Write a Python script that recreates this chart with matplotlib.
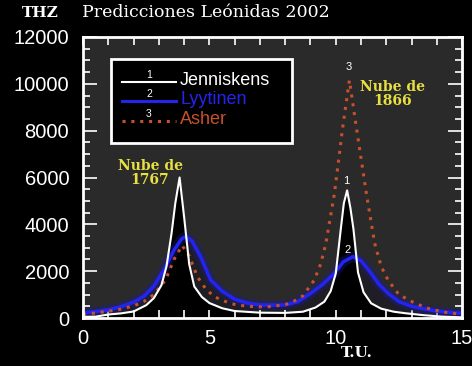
import numpy as np
import matplotlib
matplotlib.use("Agg")
import matplotlib.pyplot as plt
from matplotlib.patches import Rectangle
from matplotlib.ticker import MultipleLocator

# Jenniskens (white)
x_jen = [0, 0.5, 1.0, 1.5, 2.0, 2.5, 2.8, 3.1, 3.3, 3.5, 3.65, 3.82, 4.0, 4.2, 4.4,
         4.7, 5.0, 5.5, 6.0, 7.0, 8.0, 8.7, 9.2, 9.55, 9.8, 10.0, 10.2, 10.32, 10.45,
         10.58, 10.7, 10.88, 11.1, 11.4, 11.8, 12.3, 12.8, 13.5, 14.2, 15]
y_jen = [50, 60, 150, 200, 280, 550, 850, 1400, 2200, 3600, 4900, 6000, 4300, 2300, 1350,
         900, 640, 420, 300, 230, 220, 270, 450, 700, 1150, 1900, 3800, 4900, 5450,
         4700, 3800, 1950, 1100, 630, 400, 270, 200, 120, 60, 30]

# Lyytinen (blue)
x_lyy = [0, 0.4, 1.0, 1.5, 2.0, 2.4, 2.8, 3.2, 3.6, 3.9, 4.06, 4.3, 4.65, 5.05, 5.5,
         6.0, 6.5, 7.0, 7.5, 8.0, 8.5, 9.0, 9.5, 9.95, 10.3, 10.68, 11.0, 11.4, 11.7,
         12.07, 12.5, 13.0, 13.4, 14.0, 14.5, 15]
y_lyy = [230, 260, 350, 480, 680, 920, 1350, 2050, 2900, 3380, 3480, 3300, 2620, 1620, 1150,
         800, 640, 560, 550, 560, 700, 1050, 1450, 1910, 2400, 2620, 2450, 1910, 1450,
         1050, 700, 500, 410, 300, 240, 200]

# Asher (red dotted)
x_ash = [0, 0.5, 1.0, 1.5, 2.0, 2.4, 2.8, 3.26, 3.6, 3.92, 4.2, 4.52, 4.85, 5.19, 5.6,
         6.0, 6.5, 7.0, 7.45, 8.0, 8.22, 8.7, 9.15, 9.4, 9.61, 9.95, 10.28, 10.54, 10.81,
         11.21, 11.54, 11.8, 12.07, 12.5, 13.14, 13.7, 14.3, 15]
y_ash = [150, 220, 290, 380, 520, 700, 1000, 1620, 2500, 3100, 2650, 1770, 1250, 910, 720,
         580, 500, 480, 490, 580, 640, 950, 1620, 2300, 3190, 5330, 8180, 10150, 8180,
         5330, 3190, 2200, 1620, 1000, 630, 400, 250, 150]

names = ["Jenniskens", "Lyytinen", "Asher"]
yellow = "#e8e040"
blue = "#2424f0"
red = "#c8502a"
dots = (0, (1, 1.9))

fig = plt.figure(figsize=(4.72, 3.66), dpi=100, facecolor="black")
ax = fig.add_axes([0.176, 0.131, 0.803, 0.768])
ax.set_facecolor("#2a2a2a")

# dark fill under the curves
ax.fill_between(x_lyy, y_lyy, color="#08081a", alpha=0.35, lw=0)
ax.fill_between(x_jen, y_jen, color="black", lw=0)

# blue glow + line
ax.plot(x_lyy, y_lyy, color="#1a1aa0", lw=7, alpha=0.35, solid_capstyle="round")
ax.plot(x_lyy, y_lyy, color=blue, lw=2.5)
ax.plot(x_ash, y_ash, color=red, lw=2.2, linestyle=dots)
ax.plot(x_jen, y_jen, color="white", lw=1.5)

ax.set_xlim(0, 15)
ax.set_ylim(0, 12000)
ax.xaxis.set_major_locator(MultipleLocator(5))
ax.xaxis.set_minor_locator(MultipleLocator(1))
ax.yaxis.set_major_locator(MultipleLocator(2000))
ax.yaxis.set_minor_locator(MultipleLocator(500))
ax.tick_params(which="both", direction="in", top=True, right=True, color="white",
               labelcolor="white", labelsize=14.5, width=1.2)
ax.tick_params(axis="x", which="both", length=6, pad=8)
ax.tick_params(axis="y", which="major", length=10, pad=10)
ax.tick_params(axis="y", which="minor", length=5)
for lab in ax.get_xticklabels() + ax.get_yticklabels():
    lab.set_family("Liberation Sans")
for s in ax.spines.values():
    s.set_color("white")
    s.set_linewidth(2)

# peak numbers
ax.text(10.5, 10500, "3", color="white", fontsize=8, ha="center", va="bottom", family="Liberation Sans")
ax.text(10.4, 5650, "1", color="white", fontsize=8, ha="center", va="bottom", family="Liberation Sans")
ax.text(10.45, 2700, "2", color="white", fontsize=8, ha="center", va="bottom", family="Liberation Sans")

# cloud labels
ax.text(2.65, 6200, "Nube de\n1767", color=yellow, fontsize=10, fontweight="bold",
        family="DejaVu Serif", ha="center", va="center", linespacing=1.0)
ax.text(12.25, 9550, "Nube de\n1866", color=yellow, fontsize=10, fontweight="bold",
        family="DejaVu Serif", ha="center", va="center", linespacing=1.0)

# legend box
ax.add_patch(Rectangle((0.074, 0.623), 0.477, 0.299, transform=ax.transAxes,
                       facecolor="black", edgecolor="white", lw=2, zorder=5))
leg_y = [0.845, 0.777, 0.705]
leg_colors = ["white", blue, red]
leg_styles = ["-", "-", dots]
for i in range(3):
    ax.plot([0.103, 0.245], [leg_y[i] - 0.005] * 2, transform=ax.transAxes, color=leg_colors[i],
            lw=1.5 if i == 0 else 2.2, linestyle=leg_styles[i], zorder=6)
    ax.text(0.174, leg_y[i] + 0.003, str(i + 1), transform=ax.transAxes, color="white",
            fontsize=7.5, ha="center", va="bottom", zorder=6, family="Liberation Sans")
    ax.text(0.256, leg_y[i], names[i], transform=ax.transAxes, color=leg_colors[i],
            fontsize=13, ha="left", va="center", zorder=6, family="Liberation Sans")

fig.text(0.047, 0.965, "THZ", color="white", fontsize=11, fontweight="bold",
         family="DejaVu Serif", va="center", ha="left")
fig.text(0.174, 0.967, "Predicciones Leónidas 2002", color="white", fontsize=12.5,
         family="DejaVu Serif", va="center", ha="left")
fig.text(0.757, 0.036, "T.U.", color="white", fontsize=11, fontweight="bold",
         family="DejaVu Serif", va="center", ha="center")

fig.savefig("out.png", dpi=100, facecolor="black")
